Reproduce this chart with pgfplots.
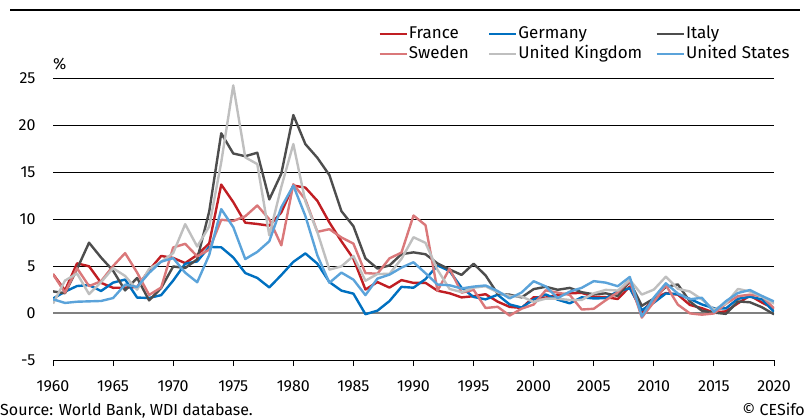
\documentclass[border=0pt]{standalone}
\usepackage{fontspec}
\setmainfont{Fira Sans}
\usepackage{pgfplots}
\pgfplotsset{compat=1.18}
\usepackage{pgfplotstable}

\definecolor{cfr}{RGB}{192,30,35}
\definecolor{cde}{RGB}{0,112,192}
\definecolor{cit}{RGB}{77,77,77}
\definecolor{cse}{RGB}{218,120,122}
\definecolor{cuk}{RGB}{191,191,191}
\definecolor{cus}{RGB}{91,163,218}

% consumer price inflation, annual %
\pgfplotstableread{
year fr de it se uk us
1960 4.14 1.54 2.30 4.13 1.00 1.46
1961 2.40 2.27 2.10 2.16 3.45 1.07
1962 5.28 2.87 4.69 4.77 4.20 1.20
1963 4.97 2.97 7.48 2.86 2.01 1.24
1964 3.21 2.34 5.90 3.38 3.28 1.28
1965 2.68 3.23 4.50 5.00 4.77 1.59
1966 2.69 3.56 2.40 6.37 3.94 3.02
1967 2.76 1.64 3.73 4.30 2.48 2.77
1968 4.56 1.60 1.34 1.92 4.70 4.27
1969 6.07 1.90 2.65 2.71 5.44 5.46
1970 5.86 3.45 4.95 6.97 6.37 5.84
1971 5.31 5.24 4.79 7.36 9.45 4.29
1972 6.18 5.49 5.71 6.03 7.07 3.27
1973 7.40 7.03 10.79 6.74 9.20 6.18
1974 13.66 6.99 19.12 9.92 16.04 11.05
1975 11.80 5.91 16.97 9.79 24.21 9.14
1976 9.61 4.25 16.68 10.29 16.56 5.74
1977 9.47 3.73 17.05 11.44 15.84 6.50
1978 9.29 2.72 12.08 9.97 8.26 7.63
1979 10.70 4.04 14.83 7.20 13.42 11.25
1980 13.56 5.44 21.06 13.70 17.97 13.55
1981 13.34 6.34 17.97 12.08 11.88 10.33
1982 11.93 5.25 16.51 8.63 8.60 6.13
1983 9.63 3.29 14.67 8.92 4.61 3.21
1984 7.63 2.38 10.84 8.04 4.96 4.30
1985 5.78 2.06 9.23 7.38 6.07 3.55
1986 2.50 -0.13 5.81 4.24 3.43 1.90
1987 3.29 0.25 4.73 4.18 4.15 3.66
1988 2.70 1.27 5.06 5.81 4.16 4.08
1989 3.50 2.78 6.26 6.43 5.76 4.83
1990 3.20 2.69 6.45 10.37 8.06 5.40
1991 3.21 3.61 6.25 9.34 7.46 4.23
1992 2.37 5.06 5.27 2.37 4.59 3.03
1993 2.10 4.47 4.63 4.72 2.56 2.95
1994 1.66 2.69 4.05 2.16 2.22 2.61
1995 1.79 1.71 5.24 2.46 2.70 2.81
1996 2.00 1.45 4.00 0.53 2.85 2.93
1997 1.21 1.94 2.04 0.66 2.20 2.34
1998 0.65 0.91 1.95 -0.27 1.82 1.55
1999 0.54 0.58 1.66 0.46 1.75 2.19
2000 1.68 1.44 2.54 0.90 1.18 3.38
2001 1.64 1.98 2.79 2.41 1.53 2.83
2002 1.92 1.42 2.47 2.16 1.52 1.59
2003 2.10 1.03 2.67 1.93 1.38 2.27
2004 2.14 1.67 2.21 0.37 1.39 2.68
2005 1.74 1.55 1.99 0.45 2.09 3.39
2006 1.68 1.58 2.09 1.36 2.46 3.23
2007 1.49 2.30 1.82 2.21 2.39 2.85
2008 2.81 2.63 3.35 3.44 3.52 3.84
2009 0.09 0.31 0.77 -0.49 1.96 -0.36
2010 1.53 1.10 1.53 1.16 2.49 1.64
2011 2.12 2.08 2.78 2.96 3.86 3.16
2012 1.95 2.01 3.04 0.89 2.57 2.07
2013 0.86 1.50 1.22 -0.04 2.29 1.46
2014 0.51 0.91 0.24 -0.18 1.45 1.62
2015 0.04 0.51 0.04 -0.05 0.37 0.12
2016 0.18 0.49 -0.09 0.98 1.01 1.26
2017 1.03 1.51 1.23 1.79 2.56 2.13
2018 1.85 1.73 1.14 1.95 2.29 2.44
2019 1.11 1.45 0.61 1.78 1.74 1.81
2020 0.48 0.14 -0.14 0.50 0.99 1.23
}\inflation

\begin{document}
\begin{tikzpicture}
\path[use as bounding box] (0pt,0pt) rectangle (811pt,418pt);
\draw[line width=2pt] (10pt,408pt) -- (800pt,408pt);

\begin{axis}[
  at={(53pt,58pt)}, anchor=south west,
  scale only axis,
  width=721pt, height=282pt,
  xmin=1960, xmax=2020,
  ymin=-5, ymax=25,
  axis x line*=bottom,
  axis y line*=left,
  y axis line style={draw=none},
  x axis line style={black, line width=1pt},
  xtick={1960,1965,...,2020},
  ytick={-5,5,10,15,20,25},
  extra y ticks={0},
  extra y tick style={grid style={gray, line width=1.3pt}},
  ymajorgrids,
  grid style={black, line width=0.8pt},
  tick align=outside,
  major tick length=6pt,
  xtick style={black, line width=1pt},
  ytick style={draw=none},
  /pgf/number format/assume math mode=true,
  /pgf/number format/1000 sep={},
  tick label style={font=\fontsize{16}{16}\selectfont},
  xticklabel style={yshift=-11pt},
  yticklabel style={xshift=-8pt},
  ylabel={\%},
  ylabel style={rotate=-90, at={(axis description cs:0,1)}, anchor=base west,
    yshift=9pt, inner sep=0pt, font=\fontsize{16}{16}\selectfont},
  legend columns=3,
  legend cell align=left,
  legend style={at={(axis description cs:0.4508,1.188)}, anchor=north west,
    draw=none, fill=none, inner sep=0pt, row sep=2pt,
    nodes={inner sep=1pt, text height=12pt, text depth=4pt,
      font=\fontsize{17}{17}\selectfont}},
  legend image code/.code={\draw[#1, line width=2.6pt] (0pt,0pt) -- (27pt,0pt);},
  every axis plot/.append style={line width=2.4pt, line join=round},
]
\addplot[cfr] table[x=year, y=fr] {\inflation};
\addplot[cde] table[x=year, y=de] {\inflation};
\addplot[cit] table[x=year, y=it] {\inflation};
\addplot[cse] table[x=year, y=se] {\inflation};
\addplot[cuk] table[x=year, y=uk] {\inflation};
\addplot[cus] table[x=year, y=us] {\inflation};
\legend{\makebox[78pt][l]{France}, \makebox[136pt][l]{Germany}, Italy,
  \makebox[78pt][l]{Sweden}, \makebox[136pt][l]{United Kingdom}, United States}
\end{axis}

\node[anchor=base west, inner sep=0pt, font=\fontsize{16}{16}\selectfont]
  at (0pt,3pt) {Source: World Bank, WDI database.};
\node[anchor=base east, inner sep=0pt, font=\fontsize{16}{16}\selectfont]
  at (805pt,3pt) {© CESifo};
\end{tikzpicture}
\end{document}
